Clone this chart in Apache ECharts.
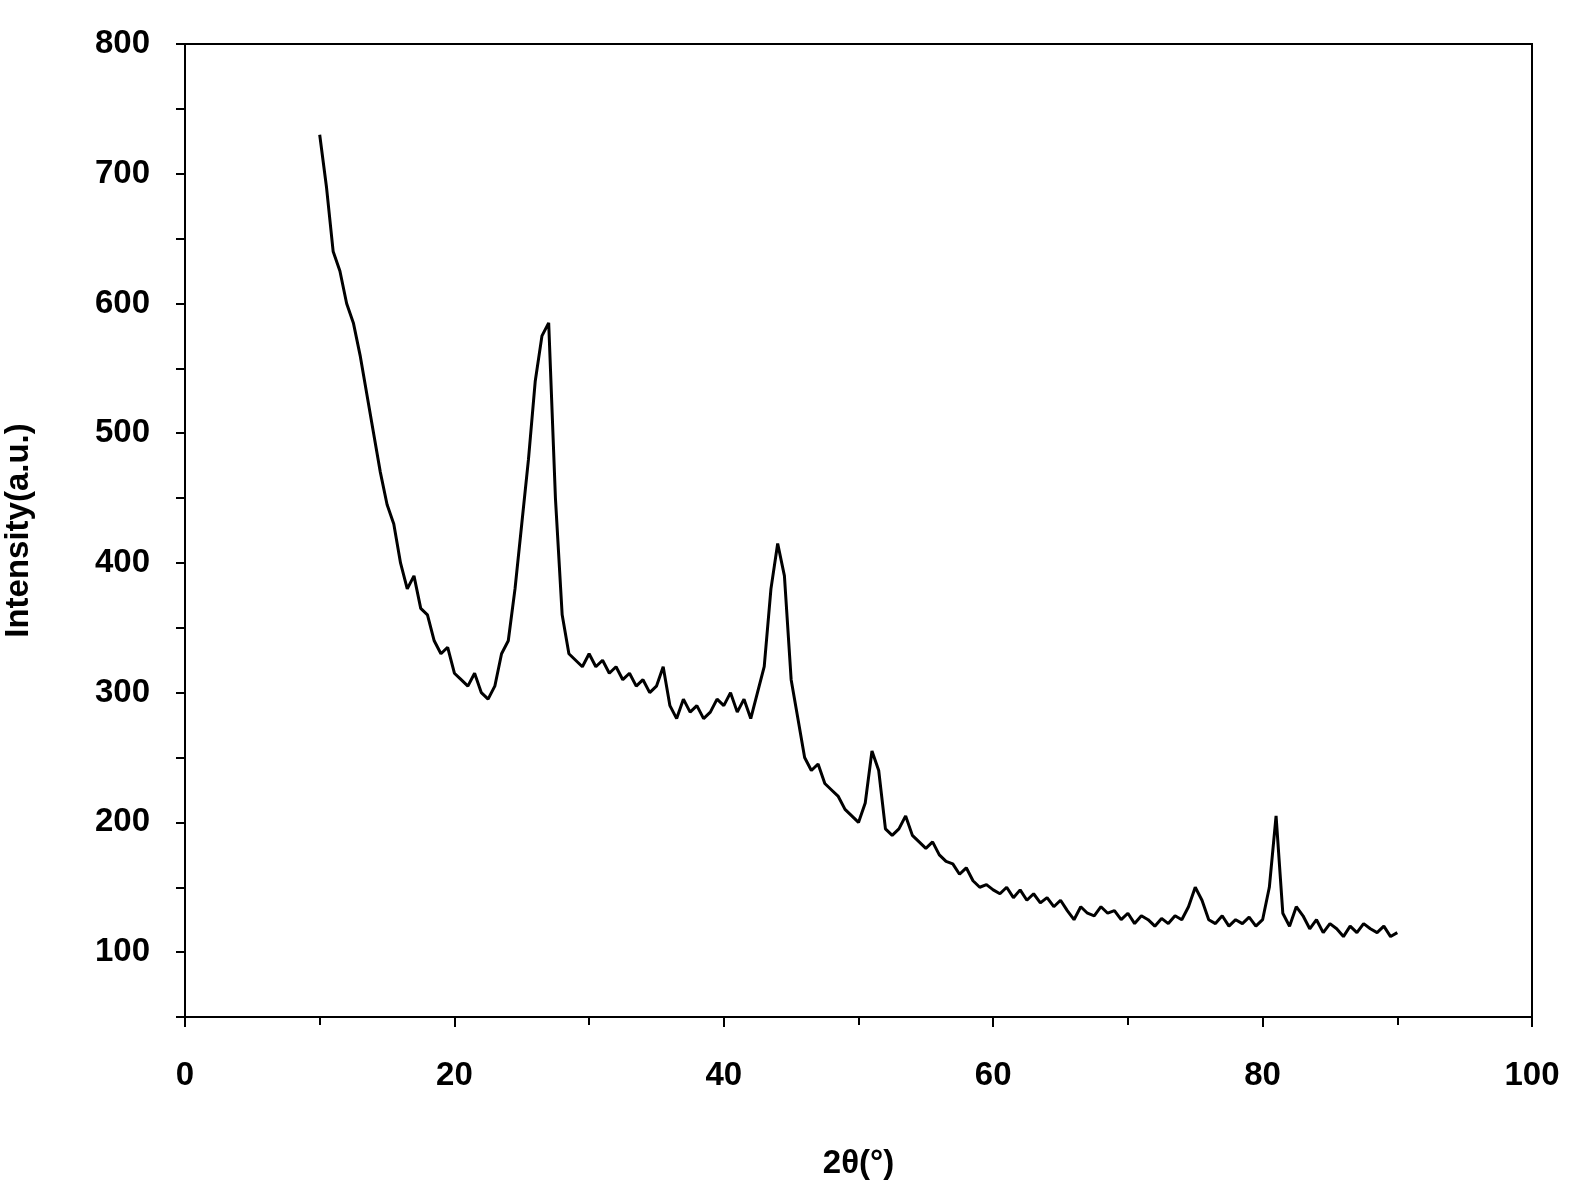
<!DOCTYPE html>
<html><head><meta charset="utf-8">
<script src="https://cdn.jsdelivr.net/npm/echarts@6/dist/echarts.min.js"></script>
<style>html,body{margin:0;background:#fff}#c{width:1578px;height:1194px}</style>
</head><body><div id="c"></div>
<script>
const xStart = 10, xStep = 0.5;
const intensity = [730,690,640,625,600,585,560,530,500,470,445,430,400,380,390,365,360,340,330,335,
315,310,305,315,300,295,305,330,340,380,430,480,540,575,585,450,360,330,325,320,
330,320,325,315,320,310,315,305,310,300,305,320,290,280,295,285,290,280,285,295,
290,300,285,295,280,300,320,380,415,390,310,280,250,240,245,230,225,220,210,205,
200,215,255,240,195,190,195,205,190,185,180,185,175,170,168,160,165,155,150,152,
148,145,150,142,148,140,145,138,142,135,140,132,125,135,130,128,135,130,132,125,
130,122,128,125,120,126,122,128,125,135,150,140,125,122,128,120,125,122,127,120,
125,150,205,130,120,135,128,118,125,115,122,118,112,120,115,122,118,115,120,112,115];
const data = intensity.map((v,i)=>[xStart+i*xStep, v]);
const font = {fontFamily:'Liberation Sans', fontWeight:'bold', fontSize:33, color:'#000'};
const chart = echarts.init(document.getElementById('c'));
chart.setOption({
  animation:false,
  grid:{left:185,right:46,top:44,bottom:177,show:true,borderColor:'#000',borderWidth:2,outerBoundsMode:'none',containLabel:false},
  xAxis:{type:'value',min:0,max:100,interval:20,name:'2θ(°)',nameLocation:'middle',nameGap:130,
    nameTextStyle:font,axisLabel:Object.assign({margin:42},font),
    axisLine:{onZero:false,lineStyle:{color:'#000',width:2}},axisTick:{length:10,lineStyle:{width:2}},
    minorTick:{show:true,splitNumber:2,length:8,lineStyle:{color:'#000',width:2}},splitLine:{show:false}},
  yAxis:{type:'value',min:50,max:800,interval:50,
    axisLabel:Object.assign({margin:35,formatter:v=>v%100===0?String(v):''},font),
    name:'Intensity(a.u.)',nameLocation:'middle',nameGap:150,nameTextStyle:font,
    axisLine:{lineStyle:{color:'#000',width:2}},axisTick:{length:9,lineStyle:{width:2}},
    splitLine:{show:false}},
  series:[{type:'line',data:data,showSymbol:false,lineStyle:{color:'#000',width:3}}]
});
</script></body></html>
